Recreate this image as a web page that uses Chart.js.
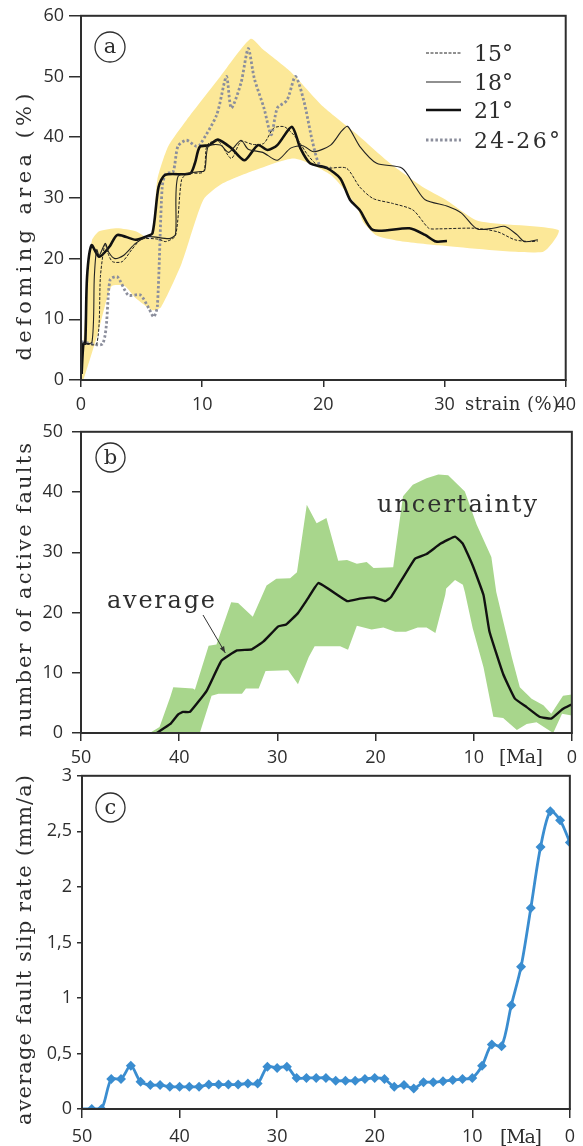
<!DOCTYPE html>
<html><head><meta charset="utf-8">
<script src="https://cdn.jsdelivr.net/npm/chart.js@4.4.1/dist/chart.umd.min.js"></script>
<style>
html,body{margin:0;padding:0;background:#fff;}
body{width:583px;height:1146px;position:relative;overflow:hidden;}
canvas{position:absolute;left:0;}
</style></head><body>
<canvas id="ca" width="583" height="412" style="top:0px"></canvas>
<canvas id="cb" width="583" height="362" style="top:412px"></canvas>
<canvas id="cc" width="583" height="386" style="top:760px"></canvas>
<script>
// ---------- Panel (a): deforming area (%) vs strain (%) ----------
const strainTicks = [0, 10, 20, 30, 40];
const areaTicks = [0, 10, 20, 30, 40, 50, 60];
const line15 = [[0.1,6],[1.3,6],[1.6,17],[1.8,20.5],[2.0,22.5],[2.2,21],[2.6,19.5],[3.4,19.5],[4.2,21.5],[5.0,23.2],[6.4,23.2],[7.0,22.8],[7.8,23.8],[8.3,33],[8.8,34],[10.1,34.3],[10.4,38.7],[11.3,39.4],[12.4,36.5],[13.2,39.3],[14.2,38.8],[15.1,39.0],[15.9,41.5],[16.8,41.7],[17.8,39.8],[18.7,37.1],[19.5,35.4],[20.3,34.9],[21.9,34.9],[23.0,31.8],[24.1,29.9],[25.7,29.1],[27.4,28.0],[28.7,25.0],[29.5,24.9],[32.5,25.0],[34.4,24.4],[35.8,23.1],[37.1,22.8],[37.7,22.9]];
const line18 = [[0.1,6],[0.9,6.2],[1.1,17],[1.3,21.5],[1.5,20.5],[2.0,22.5],[2.3,21],[2.8,20],[3.5,20.5],[4.5,22.5],[5.5,23.6],[7.3,23.3],[7.8,24],[8.0,33.5],[9.7,34.3],[10.2,34.5],[10.5,38.5],[11.5,38.7],[12.2,37.5],[13.2,39.5],[13.8,38],[15,37.5],[16.2,36.2],[17.3,38.2],[18.3,38.6],[19.2,37.6],[20.6,38.7],[21.5,41],[22.0,41.8],[23,38.5],[24.4,35.7],[26.5,34.9],[27.6,31.8],[28.4,29.7],[30.3,28.6],[31.4,27.5],[32.3,25.5],[32.8,24.8],[34,25],[35,25.3],[36,23.9],[36.6,22.8],[37.7,23.1]];
const line21 = [[0.05,1],[0.2,6],[0.35,6],[0.5,17],[0.87,22.2],[1.5,20.3],[2.36,22],[3.0,23.9],[4.5,23.1],[5.35,23.6],[5.9,24.2],[6.4,31.8],[6.95,33.8],[9.0,34],[9.4,35.7],[9.8,38.4],[10.6,38.7],[11.3,39.6],[12.4,38.2],[13.5,36.2],[14.6,38.7],[15.4,37.9],[16.2,38.7],[17.4,41.7],[18.1,38.2],[18.9,35.7],[20.3,34.9],[21.4,33.2],[22.2,29.7],[23.0,28],[24.1,24.7],[27.1,25.0],[28.4,23.9],[29.3,22.8],[30.2,22.9]];
const line24 = [[0.05,6.3],[1.8,6],[2.4,16.5],[3.0,17],[3.9,14],[4.9,14],[5.6,11.8],[6.0,10.4],[6.3,12.1],[6.7,31.8],[7.0,34],[7.6,34.3],[8.0,38.5],[8.7,39.5],[9.5,38.5],[9.8,38.7],[11.2,43.7],[12.0,50.0],[12.4,44.8],[13.2,48.9],[13.8,54.6],[14.3,49.7],[15.1,44.8],[15.7,40.4],[16.2,44.8],[17.0,46.1],[17.7,50.0],[18.4,45.9],[19.1,39.3],[19.7,35.4],[20.6,34.9]];
const bandA = [[0,0],[0.5,15],[0.9,23],[1.5,24.5],[3,25],[4.5,24.5],[5.8,23.3],[6.3,33],[7.2,38.5],[8.7,42.8],[11.5,50],[14,56.2],[15,54.5],[17.3,50.8],[20,45],[22.7,40.6],[25.5,35.7],[28.2,31.8],[30.1,29.7],[32.8,26.2],[39.4,24.7],
  [38.1,21.1],[29.5,22.2],[26,23],[24.4,23.8],[23.3,26],[22.7,28.8],[20.6,33.8],[17.6,36.5],[14.4,34.6],[11.7,32.4],[10.1,29.7],[8.3,19.2],[6.6,12],[5.9,11.5],[4.5,13.5],[3.6,15.5],[2.5,15.4],[1.4,7.7],[0.2,0]];
const legendLabels = ['15°', '18°', '21°', '24-26°'];

// ---------- Panel (b): number of active faults vs age (Ma) ----------
const ageTicks = [50, 40, 30, 20, 10, 0];
const faultTicks = [0, 10, 20, 30, 40, 50];
const avgMa    = [42.3,40.9,40.1,39.6,38.9,37.2,35.7,34.1,32.6,31.4,29.9,29.1,27.9,26.9,25.8,22.9,21.6,20.1,19.0,18.4,16.0,14.8,13.4,11.9,11.1,10.1,9.0,8.4,7.0,5.8,4.6,3.3,2.1,1.0,0.2,0];
const avgCount = [0,1.5,3.1,3.5,3.5,7.0,12.0,13.7,13.9,15.2,17.7,18.0,19.9,22.3,24.9,21.9,22.3,22.5,21.9,22.6,28.9,29.7,31.4,32.6,31.4,27.8,22.9,16.9,9.8,5.7,4.3,2.7,2.4,3.9,4.6,4.7];
const upperMa    = [43,42,40.9,40.6,38.6,38.4,37.0,36.2,34.7,34.0,32.5,31.1,30.1,28.7,28.0,27.0,26.0,25.0,23.8,22.9,21.9,20.9,20.2,18.2,17.2,16.2,14.8,13.6,12.6,10.9,9.7,8.2,7.7,6.1,5.3,4.1,2.9,2.1,0.9,0];
const upperCount = [0,1.0,6,7.6,7.4,7.2,14.5,14.7,21.7,21.6,19.3,24.5,25.6,25.7,26.7,37.9,34.8,35.7,28.6,28.7,28.1,28.4,27.4,27.5,39.3,41.2,42.3,42.9,42.8,40.1,34.6,29.2,23.4,12.5,7.6,5.7,4.6,3.2,6.2,6.4];
const lowerMa    = [0,1.0,1.9,3.6,4.6,5.6,7.0,8.0,9.0,10.1,10.9,11.1,11.9,12.8,12.9,13.9,14.8,15.7,16.9,18.0,19.2,20.4,21.9,22.8,23.6,26.2,26.8,27.9,28.9,31.2,31.9,33.2,33.6,36.0,36.7,37.9,43];
const lowerCount = [2.9,3.2,0,1.8,1.5,0.5,2.5,2.7,10.9,17.4,23.4,24.6,25.4,24.0,22.9,16.6,17.5,17.5,16.8,16.8,17.5,17.2,17.8,13.8,14.4,14.4,12.6,8.1,10.4,10.3,7.4,7.4,6.5,6.5,6.2,0,0];

// ---------- Panel (c): average fault slip rate (mm/a) vs age (Ma) ----------
const slipTicks = [0, 0.5, 1, 1.5, 2, 2.5, 3];
const slipMa   = [50,49,48,47,46,45,44,43,42,41,40,39,38,37,36,35,34,33,32,31,30,29,28,27,26,25,24,23,22,21,20,19,18,17,16,15,14,13,12,11,10,9,8,7,6,5,4,3,2,1,0];
const slipRate = [0,0,0,0.27,0.27,0.39,0.245,0.215,0.215,0.2,0.2,0.2,0.2,0.22,0.22,0.22,0.22,0.23,0.23,0.38,0.37,0.38,0.28,0.28,0.28,0.28,0.255,0.255,0.255,0.27,0.28,0.27,0.2,0.215,0.185,0.24,0.24,0.25,0.26,0.27,0.28,0.39,0.58,0.565,0.935,1.28,1.81,2.36,2.68,2.6,2.4];

// ---------- helpers ----------
const SANS = 'Open Sans';
const SERIF = 'DejaVu Serif';
const INK = '#2e2e2e';
const pairs = a => a.map(p => ({x: p[0], y: p[1]}));
const zip = (xs, ys) => xs.map((x, i) => ({x, y: ys[i]}));

function spaced(ctx, text, x, y, target) {
  const chars = [...text];
  const w = chars.reduce((s, c) => s + ctx.measureText(c).width, 0);
  const gap = chars.length > 1 ? (target - w) / (chars.length - 1) : 0;
  ctx.textAlign = 'left';
  let cx = x;
  for (const c of chars) { ctx.fillText(c, cx, y); cx += ctx.measureText(c).width + gap; }
}
function vTitle(ctx, text, x, cy, target, size) {
  ctx.save();
  ctx.translate(x, cy);
  ctx.rotate(-Math.PI / 2);
  ctx.font = size + 'px "' + SERIF + '"';
  ctx.fillStyle = INK;
  ctx.textBaseline = 'alphabetic';
  spaced(ctx, text, -target / 2, 0, target);
  ctx.restore();
}
function circled(ctx, letter, cx, cy, r) {
  ctx.save();
  ctx.strokeStyle = INK; ctx.lineWidth = 1.3;
  ctx.beginPath(); ctx.arc(cx, cy, r, 0, Math.PI * 2); ctx.stroke();
  ctx.fillStyle = INK; ctx.font = '21px "' + SERIF + '"';
  ctx.textAlign = 'center'; ctx.textBaseline = 'middle';
  ctx.fillText(letter, cx, cy + 1);
  ctx.restore();
}
function frame(chart) {
  const {ctx, chartArea: a} = chart;
  ctx.save();
  ctx.strokeStyle = INK; ctx.lineWidth = 2;
  ctx.strokeRect(a.left, a.top, a.right - a.left, a.bottom - a.top);
  ctx.restore();
}
function yScale(min, max, step, width, tl, pad, cb) {
  return {
    min, max, afterFit: s => { s.width = width; },
    ticks: {stepSize: step, color: INK, font: {family: SANS, size: 18}, padding: pad, callback: cb},
    grid: {display: true, drawOnChartArea: false, drawTicks: true, tickLength: tl, color: INK, lineWidth: 1.5},
    border: {display: true, color: INK, width: 2}
  };
}
function xScale(min, max, reverse, height, tl, pad) {
  return {
    type: 'linear', min, max, reverse, afterFit: s => { s.height = height; },
    ticks: {stepSize: 10, autoSkip: false, maxRotation: 0, color: INK, font: {family: SANS, size: 18}, padding: pad},
    grid: {display: true, drawOnChartArea: false, drawTicks: true, tickLength: tl, color: INK, lineWidth: 1.5},
    border: {display: true, color: INK, width: 2}
  };
}
const common = {
  responsive: false, animation: false, devicePixelRatio: 1,
  plugins: {legend: {display: false}, tooltip: {enabled: false}}
};

// ---------- chart (a) ----------
const styleA = [
  {dash: [3, 1.5], w: 1, c: '#222'},
  {dash: [], w: 1.1, c: '#222'},
  {dash: [], w: 2.6, c: '#111'},
  {dash: [2.5, 2.2], w: 2.8, c: '#8b8e9c'}
];
const seriesA = [line15, line18, line21, line24];
new Chart(document.getElementById('ca'), {
  type: 'line',
  data: {
    datasets: [
      ...seriesA.map((s, i) => ({
        data: pairs(s), borderColor: styleA[i].c, borderWidth: styleA[i].w, borderDash: styleA[i].dash,
        pointRadius: 0, tension: 0.25, fill: false, order: 0
      })),
      {data: pairs(bandA), borderColor: 'rgba(0,0,0,0)', borderWidth: 0, backgroundColor: 'rgb(252,232,152)',
       fill: 'shape', pointRadius: 0, tension: 0.2, order: 5}
    ]
  },
  options: {
    ...common,
    layout: {padding: {left: 0, right: 11, top: 15, bottom: 0}},
    scales: {
      x: xScale(0, 40, false, 32, 7, 7),
      y: yScale(0, 60, 10, 81, 12, 5)
    }
  },
  plugins: [{
    id: 'decorA',
    afterDraw(chart) {
      const ctx = chart.ctx;
      frame(chart);
      circled(ctx, 'a', 110, 47, 15);
      const ys = [53, 82, 110, 140];
      ctx.save();
      legendLabels.forEach((lab, i) => {
        const st = styleA[i];
        ctx.strokeStyle = st.c; ctx.lineWidth = st.w; ctx.setLineDash(st.dash);
        ctx.beginPath(); ctx.moveTo(426, ys[i]); ctx.lineTo(461, ys[i]); ctx.stroke();
        ctx.setLineDash([]);
        ctx.fillStyle = INK; ctx.font = '22px "' + SERIF + '"'; ctx.textBaseline = 'alphabetic';
        spaced(ctx, lab, 474, ys[i] + 8, lab.length > 3 ? 86 : 39);
      });
      ctx.font = '18px "' + SERIF + '"'; ctx.fillStyle = INK; ctx.textBaseline = 'alphabetic';
      spaced(ctx, 'strain (%)', 465, 410, 94);
      ctx.restore();
      vTitle(ctx, 'defoming area (%)', 31, 227, 267, 21);
    }
  }]
});

// ---------- chart (b) ----------
const bandB = zip(upperMa, upperCount).concat(zip(lowerMa, lowerCount));
new Chart(document.getElementById('cb'), {
  type: 'line',
  data: {
    datasets: [
      {data: zip(avgMa, avgCount), borderColor: '#111', borderWidth: 2.4, pointRadius: 0, tension: 0.1, fill: false, order: 0},
      {data: bandB, borderColor: 'rgba(0,0,0,0)', borderWidth: 0, backgroundColor: 'rgb(168,214,140)',
       fill: 'shape', pointRadius: 0, tension: 0, order: 5}
    ]
  },
  options: {
    ...common,
    layout: {padding: {left: 0, right: 11, top: 17, bottom: 0}},
    scales: {
      x: xScale(0, 50, true, 41, 8, 6),
      y: yScale(0, 50, 10, 81, 9, 9)
    }
  },
  plugins: [{
    id: 'decorB',
    afterDraw(chart) {
      const ctx = chart.ctx;
      const xs = chart.scales.x, ys = chart.scales.y;
      frame(chart);
      circled(ctx, 'b', 110.5, 45.5, 14.5);
      ctx.save();
      ctx.fillStyle = INK; ctx.textBaseline = 'alphabetic';
      ctx.font = '24px "' + SERIF + '"';
      spaced(ctx, 'uncertainty', 377, 100, 160);
      spaced(ctx, 'average', 107, 196, 108);
      // arrow from label to the average line
      const tx = xs.getPixelForValue(35.3), ty = ys.getPixelForValue(13.3);
      const fx = 203, fy = 203;
      ctx.strokeStyle = '#333'; ctx.lineWidth = 1;
      ctx.beginPath(); ctx.moveTo(fx, fy); ctx.lineTo(tx, ty); ctx.stroke();
      const ang = Math.atan2(ty - fy, tx - fx);
      ctx.fillStyle = '#333';
      ctx.beginPath(); ctx.moveTo(tx, ty);
      ctx.lineTo(tx - 7 * Math.cos(ang - 0.35), ty - 7 * Math.sin(ang - 0.35));
      ctx.lineTo(tx - 7 * Math.cos(ang + 0.35), ty - 7 * Math.sin(ang + 0.35));
      ctx.closePath(); ctx.fill();
      ctx.fillStyle = INK; ctx.font = '19px "' + SERIF + '"';
      spaced(ctx, '[Ma]', 499, 351, 44);
      ctx.restore();
      vTitle(ctx, 'number of active faults', 31, 178, 294, 21);
    }
  }]
});

// ---------- chart (c) ----------
new Chart(document.getElementById('cc'), {
  type: 'line',
  data: {
    datasets: [{
      data: zip(slipMa, slipRate), borderColor: 'rgb(58,141,208)', backgroundColor: 'rgb(58,141,208)',
      borderWidth: 2.8, tension: 0.3, fill: false,
      pointStyle: 'rectRot', pointRadius: c => (c.dataIndex === 0 ? 0 : 5), pointBorderWidth: 0
    }]
  },
  options: {
    ...common,
    layout: {padding: {left: 0, right: 9, top: 15, bottom: 0}},
    scales: {
      x: xScale(0, 50, true, 37, 9, 8),
      y: yScale(0, 3, 0.5, 82, 5, 5, v => String(v).replace('.', ','))
    }
  },
  plugins: [{
    id: 'decorC',
    afterDraw(chart) {
      const ctx = chart.ctx;
      frame(chart);
      circled(ctx, 'c', 110.5, 47.5, 14.5);
      ctx.save();
      ctx.fillStyle = INK; ctx.textBaseline = 'alphabetic'; ctx.font = '19px "' + SERIF + '"';
      spaced(ctx, '[Ma]', 500, 383, 42);
      ctx.restore();
      vTitle(ctx, 'average fault slip rate (mm/a)', 31, 190, 350, 21);
    }
  }]
});
</script>
</body></html>
